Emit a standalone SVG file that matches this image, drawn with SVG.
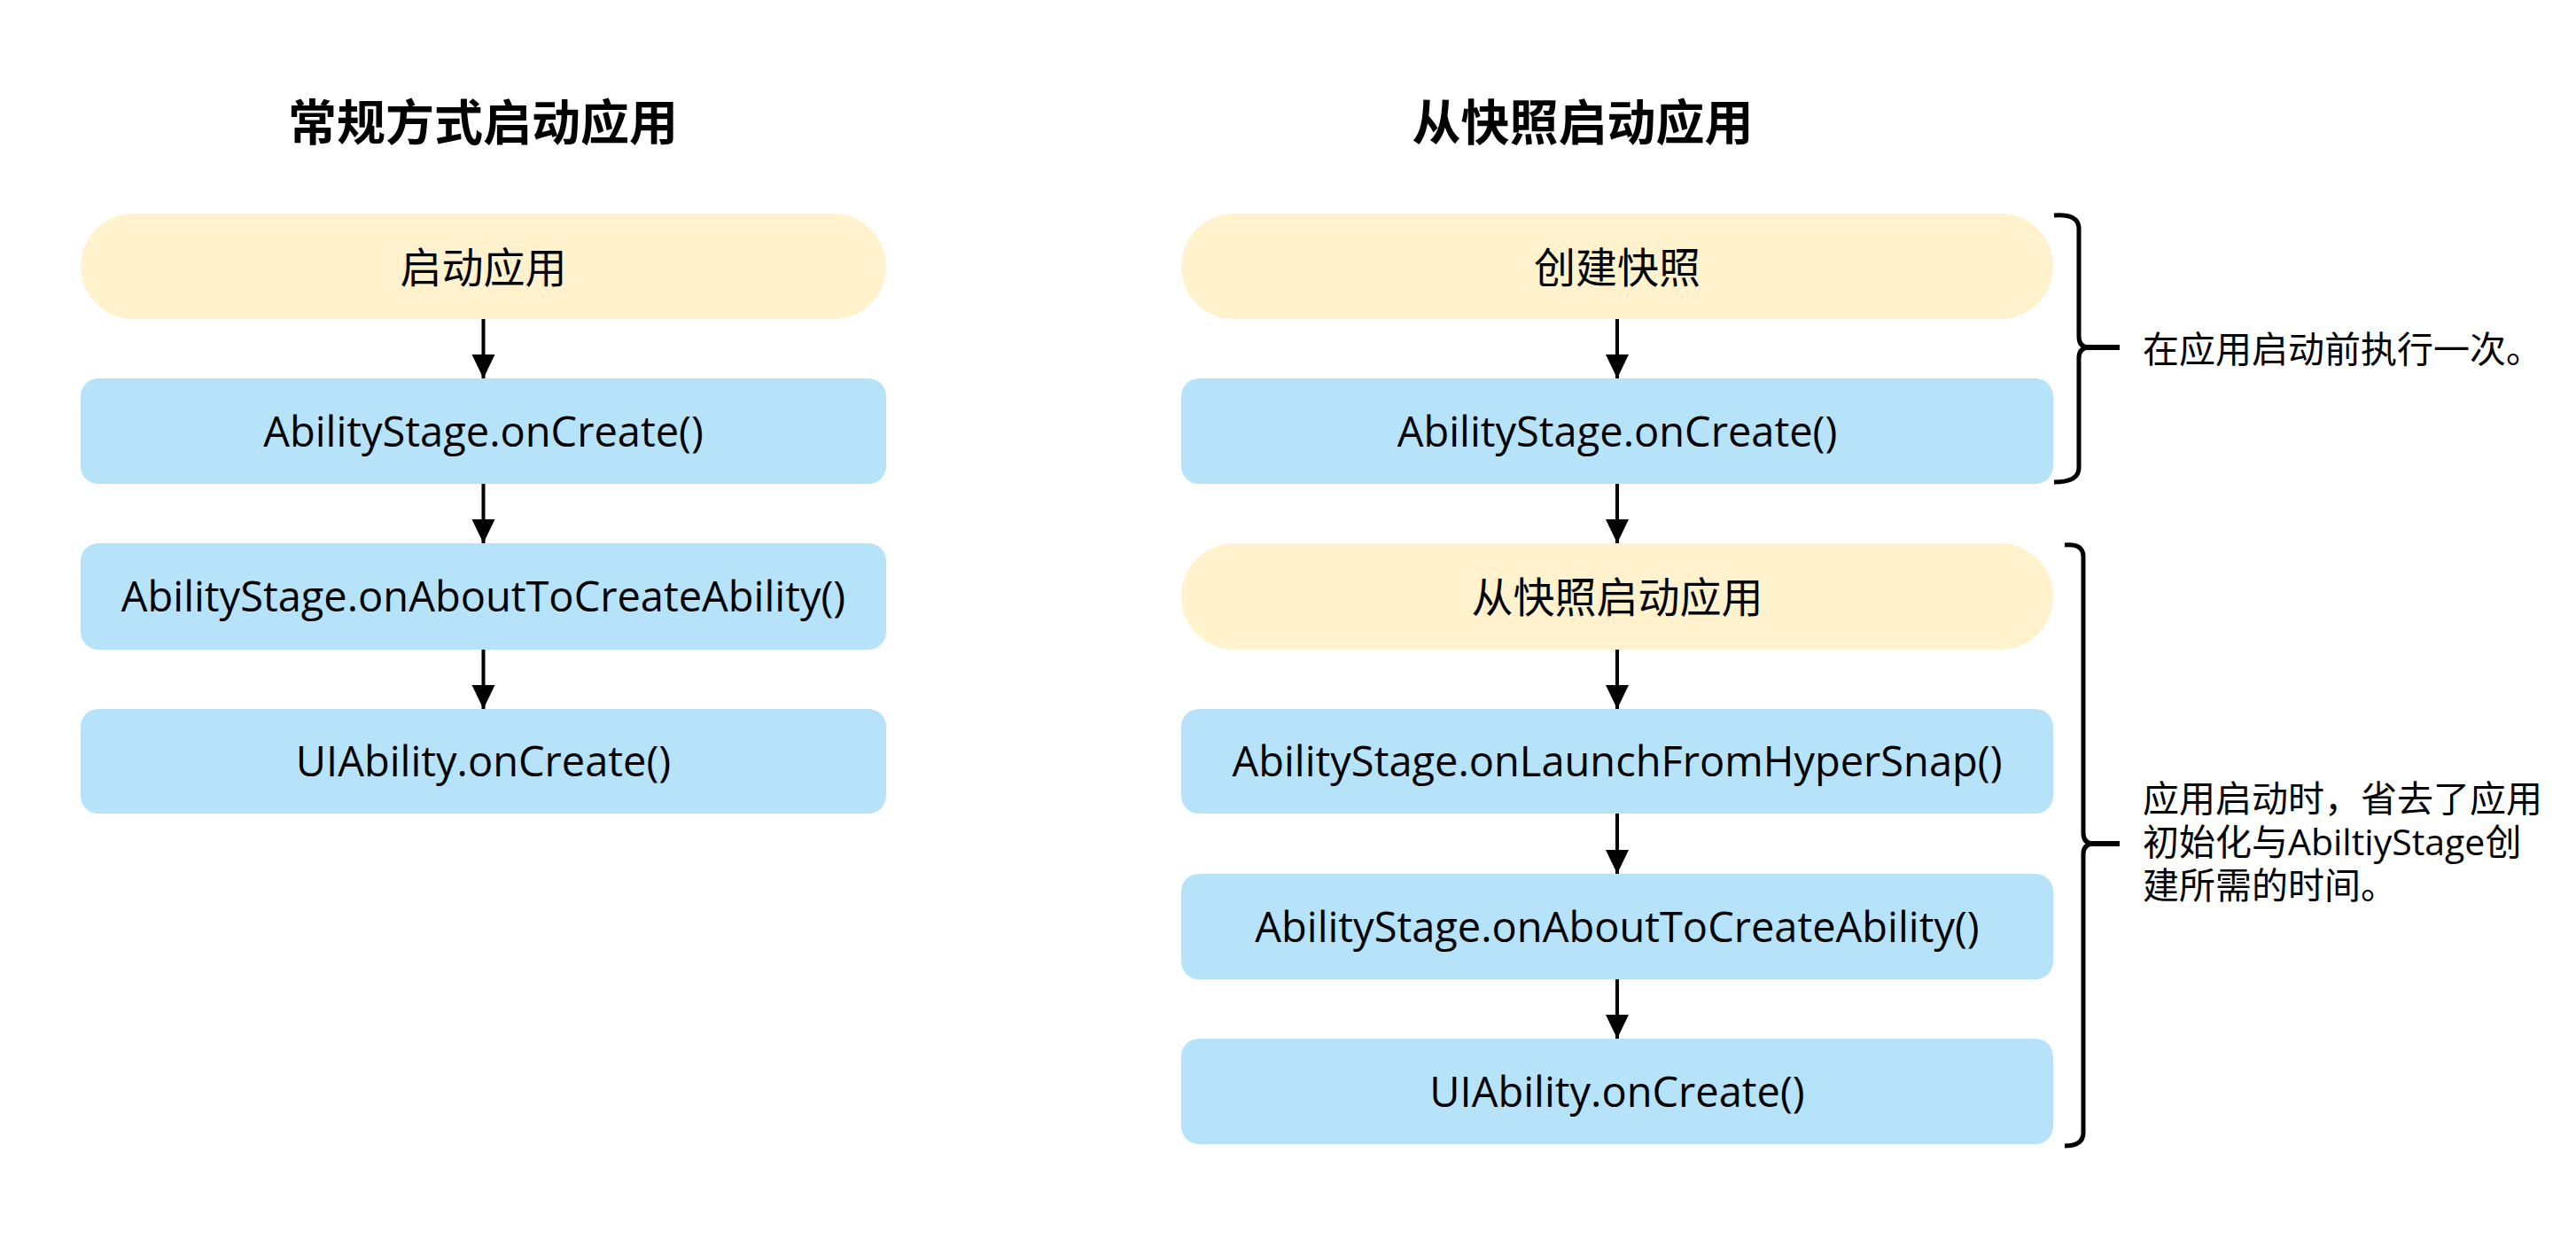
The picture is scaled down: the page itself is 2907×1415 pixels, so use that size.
<svg xmlns="http://www.w3.org/2000/svg" width="2907" height="1415" viewBox="0 0 2907 1415">
<style>
.bg{fill:#ffffff}
.pill{fill:#FFF2CD}
.box{fill:#B6E3FA}
.t{font-family:"Open Sans","Noto Sans CJK SC",sans-serif;font-size:47px;fill:#000;text-anchor:middle}
.title{font-family:"Noto Sans CJK SC",sans-serif;font-size:55px;font-weight:700;fill:#000;text-anchor:middle}
.note{font-family:"Open Sans","Noto Sans CJK SC",sans-serif;font-size:41px;fill:#000}
.conn{stroke:#000;stroke-width:4;fill:none}
.brace{stroke:#000;stroke-width:5;fill:none;stroke-linecap:butt;stroke-linejoin:round}
</style>
<defs>
<marker id="arr" markerUnits="userSpaceOnUse" markerWidth="28" markerHeight="28" refX="27" refY="13" orient="auto" viewBox="0 0 28 28">
<path d="M0,0 L27,13 L0,26 z" fill="#000"/>
</marker>
</defs>
<rect class="bg" x="0" y="0" width="2907" height="1415"/>

<text class="title" x="545" y="158">常规方式启动应用</text>
<text class="title" x="1786" y="158">从快照启动应用</text>

<g id="L1"><rect class="pill" x="91" y="241" width="909" height="119" rx="59.5"/><text class="t" x="545.5" y="318.5">启动应用</text></g>
<g id="L2"><rect class="box" x="91" y="427" width="909" height="119" rx="20"/><text class="t" x="545.5" y="503.5">AbilityStage.onCreate()</text></g>
<g id="L3"><rect class="box" x="91" y="613" width="909" height="120" rx="20"/><text class="t" x="545.5" y="690">AbilityStage.onAboutToCreateAbility()</text></g>
<g id="L4"><rect class="box" x="91" y="800" width="909" height="118" rx="20"/><text class="t" x="545.5" y="876">UIAbility.onCreate()</text></g>

<g id="R1"><rect class="pill" x="1333" y="241" width="984" height="119" rx="59.5"/><text class="t" x="1825" y="318.5">创建快照</text></g>
<g id="R2"><rect class="box" x="1333" y="427" width="984" height="119" rx="20"/><text class="t" x="1825" y="503.5">AbilityStage.onCreate()</text></g>
<g id="R3"><rect class="pill" x="1333" y="613" width="984" height="120" rx="60"/><text class="t" x="1825" y="691">从快照启动应用</text></g>
<g id="R4"><rect class="box" x="1333" y="800" width="984" height="118" rx="20"/><text class="t" x="1825" y="876">AbilityStage.onLaunchFromHyperSnap()</text></g>
<g id="R5"><rect class="box" x="1333" y="986" width="984" height="119" rx="20"/><text class="t" x="1825" y="1062.5">AbilityStage.onAboutToCreateAbility()</text></g>
<g id="R6"><rect class="box" x="1333" y="1172" width="984" height="119" rx="20"/><text class="t" x="1825" y="1248.5">UIAbility.onCreate()</text></g>

<g id="connectors">
<line class="conn" x1="545.5" y1="360" x2="545.5" y2="427" marker-end="url(#arr)"/>
<line class="conn" x1="545.5" y1="546" x2="545.5" y2="613" marker-end="url(#arr)"/>
<line class="conn" x1="545.5" y1="733" x2="545.5" y2="800" marker-end="url(#arr)"/>
<line class="conn" x1="1825" y1="360" x2="1825" y2="427" marker-end="url(#arr)"/>
<line class="conn" x1="1825" y1="546" x2="1825" y2="613" marker-end="url(#arr)"/>
<line class="conn" x1="1825" y1="733" x2="1825" y2="800" marker-end="url(#arr)"/>
<line class="conn" x1="1825" y1="918" x2="1825" y2="986" marker-end="url(#arr)"/>
<line class="conn" x1="1825" y1="1105" x2="1825" y2="1172" marker-end="url(#arr)"/>
</g>

<g id="brace1">
<path class="brace" d="M2318,243 Q2346,241 2346,258 L2346,380 Q2346,392 2358,392 Q2346,392 2346,404 L2346,528 Q2346,544 2318,544"/>
<path class="brace" d="M2354,392 L2392,392" style="stroke-width:6"/>
<text class="note" x="2418" y="409">在应用启动前执行一次。</text>
</g>
<g id="brace2">
<path class="brace" d="M2330,615 Q2351,613 2351,628 L2351,940 Q2351,952 2363,952 Q2351,952 2351,964 L2351,1278 Q2351,1293 2330,1293"/>
<path class="brace" d="M2359,952 L2392,952" style="stroke-width:6"/>
<text class="note" x="2418" y="916">应用启动时，省去了应用</text>
<text class="note" x="2418" y="965">初始化与AbiltiyStage创</text>
<text class="note" x="2418" y="1014">建所需的时间。</text>
</g>
</svg>
